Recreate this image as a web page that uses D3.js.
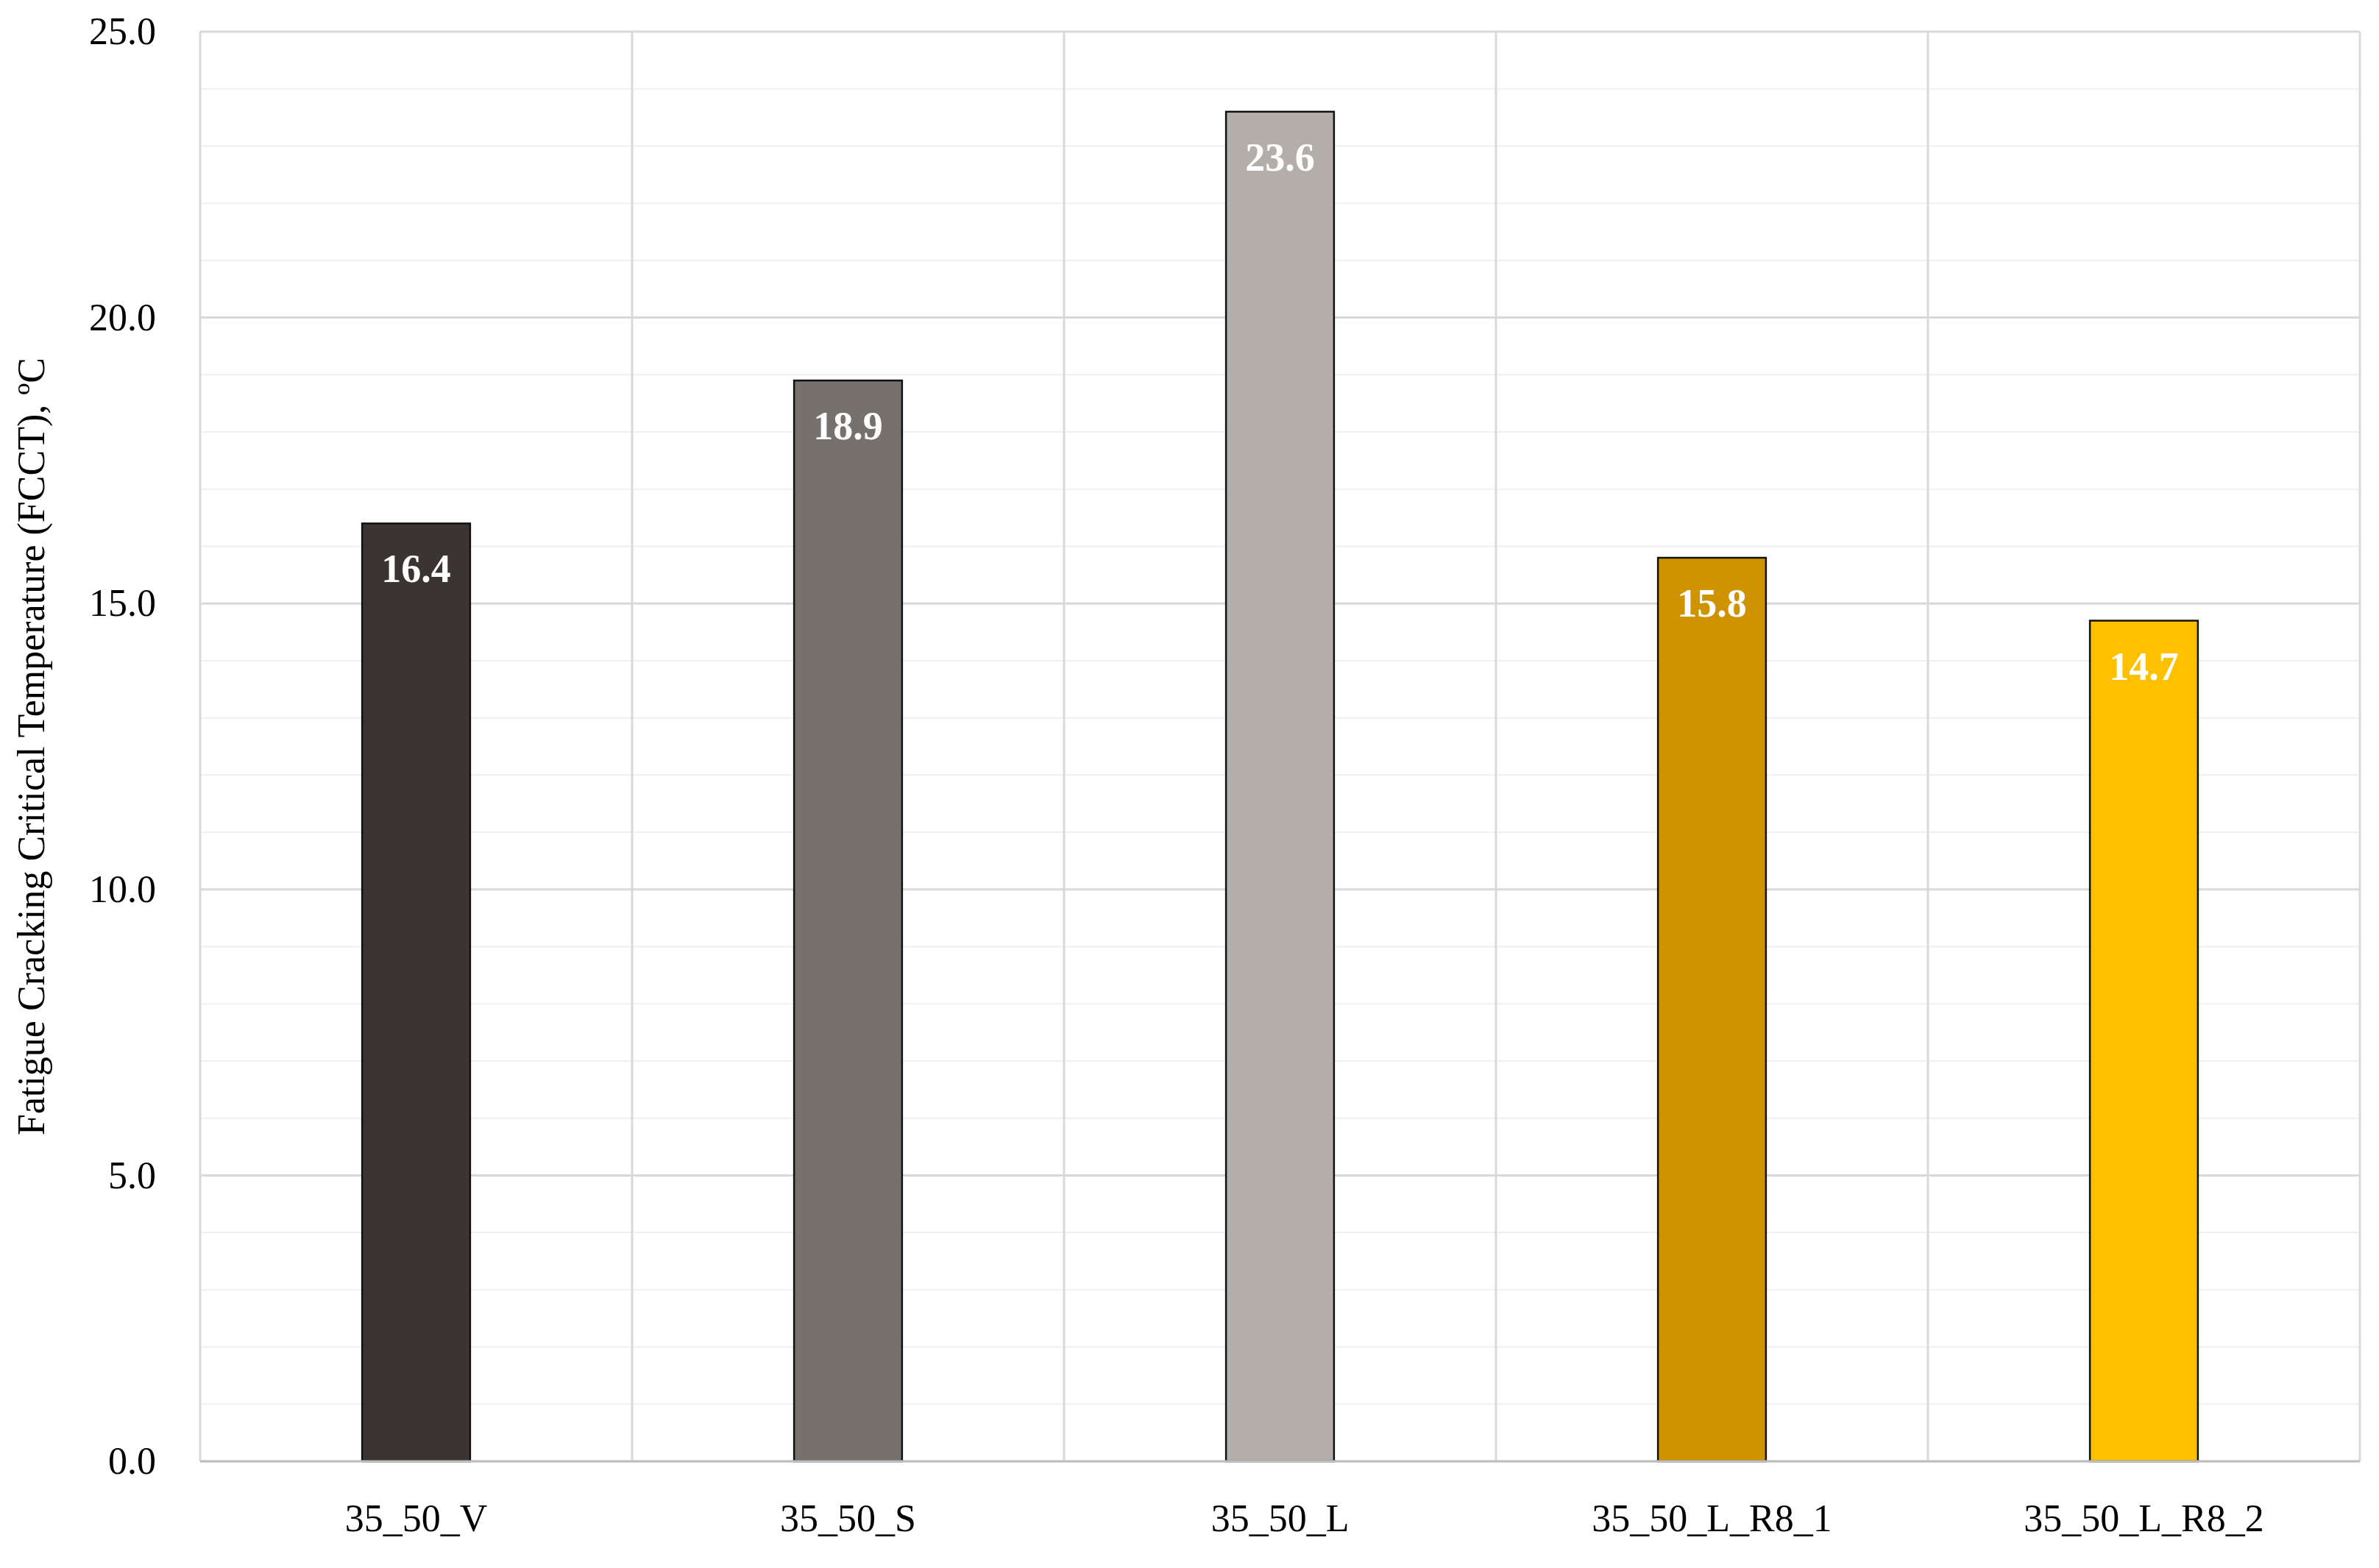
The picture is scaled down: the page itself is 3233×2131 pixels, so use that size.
<!DOCTYPE html>
<html><head><meta charset="utf-8">
<script src="https://cdn.jsdelivr.net/npm/d3@7"></script>
<style>body{margin:0;background:#fff}text{font-family:"Liberation Serif","DejaVu Serif",serif}</style>
</head><body><div id="chart"></div>
<script>
var categories = ["35_50_V", "35_50_S", "35_50_L", "35_50_L_R8_1", "35_50_L_R8_2"];
var values = [16.4, 18.9, 23.6, 15.8, 14.7];
var colors = ["#3a3532", "#77716d", "#b3aeaa", "#cf9300", "#ffc000"];
var yTicks = [0, 5, 10, 15, 20, 25];

var svgWidth = 3233, svgHeight = 2131;
var margin = {top: 43, right: 26, bottom: 145, left: 272};
var chartWidth = svgWidth - margin.left - margin.right;
var chartHeight = svgHeight - margin.top - margin.bottom;

var svg = d3.select("#chart").append("svg").attr("width", svgWidth).attr("height", svgHeight);
var g = svg.append("g").attr("transform", `translate(${margin.left},${margin.top})`);

var x = d3.scaleBand().domain(categories).range([0, chartWidth]).paddingInner(0).paddingOuter(0);
var y = d3.scaleLinear().domain([0, 25]).range([chartHeight, 0]);

// minor gridlines every 1
g.selectAll(".minor").data(d3.range(1, 25).filter(d => d % 5 !== 0)).enter().append("line")
  .attr("x1", 0).attr("x2", chartWidth).attr("y1", d => y(d)).attr("y2", d => y(d))
  .attr("stroke", "#f0f0f0").attr("stroke-width", 2);
// major gridlines
g.selectAll(".major").data(yTicks).enter().append("line")
  .attr("x1", 0).attr("x2", chartWidth).attr("y1", d => y(d)).attr("y2", d => y(d))
  .attr("stroke", "#d9d9d9").attr("stroke-width", 3);
// vertical gridlines between categories
g.selectAll(".vgrid").data(d3.range(categories.length + 1)).enter().append("line")
  .attr("x1", d => d * x.bandwidth()).attr("x2", d => d * x.bandwidth())
  .attr("y1", 0).attr("y2", chartHeight)
  .attr("stroke", "#d9d9d9").attr("stroke-width", 3);

var barW = x.bandwidth() * 0.25;
g.selectAll(".bar").data(values).enter().append("rect")
  .attr("x", (d, i) => x(categories[i]) + (x.bandwidth() - barW) / 2)
  .attr("y", d => y(d)).attr("width", barW).attr("height", d => chartHeight - y(d))
  .attr("fill", (d, i) => colors[i]).attr("stroke", "#111").attr("stroke-width", 2.5);

g.selectAll(".val").data(values).enter().append("text")
  .attr("x", (d, i) => x(categories[i]) + x.bandwidth() / 2)
  .attr("y", d => y(d) + 80).attr("text-anchor", "middle")
  .attr("font-size", 54).attr("font-weight", "bold").attr("fill", "#fff")
  .text(d => d.toFixed(1));

// x axis line
g.append("line").attr("x1", 0).attr("x2", chartWidth).attr("y1", chartHeight).attr("y2", chartHeight)
  .attr("stroke", "#bfbfbf").attr("stroke-width", 3);

// axes
var yAxis = g.append("g").call(d3.axisLeft(y).tickValues(yTicks).tickSize(0).tickPadding(60).tickFormat(d3.format(".1f")));
yAxis.select(".domain").remove();
yAxis.selectAll("text").attr("font-size", 52).attr("fill", "#000").style("font-family", "Liberation Serif");

var xAxis = g.append("g").attr("transform", `translate(0,${chartHeight})`)
  .call(d3.axisBottom(x).tickSize(0).tickPadding(58));
xAxis.select(".domain").remove();
xAxis.selectAll("text").attr("font-size", 52).attr("fill", "#000").style("font-family", "Liberation Serif");

svg.append("text").attr("transform", `translate(60,${margin.top + chartHeight / 2}) rotate(-90)`)
  .attr("text-anchor", "middle").attr("font-size", 52).attr("fill", "#000")
  .text("Fatigue Cracking Critical Temperature (FCCT), ºC");
</script></body></html>
